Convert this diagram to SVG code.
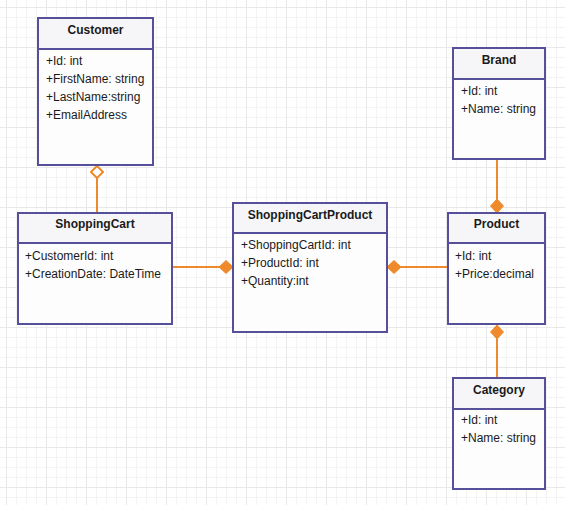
<svg xmlns="http://www.w3.org/2000/svg" width="565" height="505" viewBox="0 0 565 505">
<style>
.box{fill:#fdfdfd;stroke:#56509a;stroke-width:2}
.hdr{fill:#f6f6f8;stroke:none}
.div{stroke:#56509a;stroke-width:2}
.t{font-family:"Liberation Sans",Arial,sans-serif;font-size:12px;font-weight:bold;fill:#1a1a1a;text-anchor:middle}
.a{font-family:"Liberation Sans",Arial,sans-serif;font-size:12px;fill:#1a1a1a}
.c{fill:none;stroke:#ef8a2c;stroke-width:2}
</style>
<defs>
<pattern id="grid" x="6" y="7" width="40" height="40" patternUnits="userSpaceOnUse">
<path d="M10.5 0V40M20.5 0V40M30.5 0V40M0 10.5H40M0 20.5H40M0 30.5H40" stroke="#f4f4f4" stroke-width="1" fill="none"/>
<path d="M0.5 0V40M0 0.5H40" stroke="#e9e9e9" stroke-width="1" fill="none"/>
</pattern>
<marker id="dFill" viewBox="0 0 14 14" refX="0" refY="7" markerWidth="14" markerHeight="14" markerUnits="userSpaceOnUse" orient="auto">
<path d="M0 7L7 0.5L14 7L7 13.5Z" fill="#ef8a2c" stroke="#ef8a2c" stroke-width="1"/>
</marker>
<marker id="dOpen" viewBox="0 0 14 14" refX="0" refY="7" markerWidth="14" markerHeight="14" markerUnits="userSpaceOnUse" orient="auto">
<path d="M1 7L7 1L13 7L7 13Z" fill="#ffffff" stroke="#ef8a2c" stroke-width="2"/>
</marker>
</defs>
<rect width="565" height="505" fill="#ffffff"/>
<rect width="565" height="505" fill="url(#grid)"/>

<g id="connectors">
<path class="c" d="M97 165V213" marker-start="url(#dOpen)"/>
<path class="c" d="M233 267H172" marker-start="url(#dFill)"/>
<path class="c" d="M387 267H448" marker-start="url(#dFill)"/>
<path class="c" d="M497 213V159" marker-start="url(#dFill)"/>
<path class="c" d="M497 325V378" marker-start="url(#dFill)"/>
</g>

<g id="Customer">
<rect class="box" x="38" y="18" width="115" height="147"/>
<rect class="hdr" x="39" y="19" width="113" height="30"/>
<line class="div" x1="38" y1="49" x2="153" y2="49"/>
<text class="t" x="95.5" y="34">Customer</text>
<text class="a" x="46" y="65">+Id: int</text>
<text class="a" x="46" y="83">+FirstName: string</text>
<text class="a" x="46" y="101">+LastName:string</text>
<text class="a" x="46" y="119">+EmailAddress</text>
</g>

<g id="ShoppingCart">
<rect class="box" x="18" y="213" width="154" height="111"/>
<rect class="hdr" x="19" y="214" width="152" height="29"/>
<line class="div" x1="18" y1="243" x2="172" y2="243"/>
<text class="t" x="95" y="228">ShoppingCart</text>
<text class="a" x="25" y="260">+CustomerId: int</text>
<text class="a" x="25" y="278">+CreationDate: DateTime</text>
</g>

<g id="ShoppingCartProduct">
<rect class="box" x="233" y="203" width="154" height="129"/>
<rect class="hdr" x="234" y="204" width="152" height="29"/>
<line class="div" x1="233" y1="233" x2="387" y2="233"/>
<text class="t" x="310" y="219">ShoppingCartProduct</text>
<text class="a" x="241" y="249">+ShoppingCartId: int</text>
<text class="a" x="241" y="267">+ProductId: int</text>
<text class="a" x="241" y="285">+Quantity:int</text>
</g>

<g id="Product">
<rect class="box" x="448" y="213" width="97" height="111"/>
<rect class="hdr" x="449" y="214" width="95" height="29"/>
<line class="div" x1="448" y1="243" x2="545" y2="243"/>
<text class="t" x="496.5" y="228">Product</text>
<text class="a" x="455" y="260">+Id: int</text>
<text class="a" x="455" y="278">+Price:decimal</text>
</g>

<g id="Brand">
<rect class="box" x="453" y="48" width="92" height="111"/>
<rect class="hdr" x="454" y="49" width="90" height="30"/>
<line class="div" x1="453" y1="79" x2="545" y2="79"/>
<text class="t" x="499" y="64">Brand</text>
<text class="a" x="461" y="95">+Id: int</text>
<text class="a" x="461" y="113">+Name: string</text>
</g>

<g id="Category">
<rect class="box" x="453" y="378" width="92" height="111"/>
<rect class="hdr" x="454" y="379" width="90" height="30"/>
<line class="div" x1="453" y1="409" x2="545" y2="409"/>
<text class="t" x="499" y="394">Category</text>
<text class="a" x="461" y="424">+Id: int</text>
<text class="a" x="461" y="442">+Name: string</text>
</g>
</svg>
